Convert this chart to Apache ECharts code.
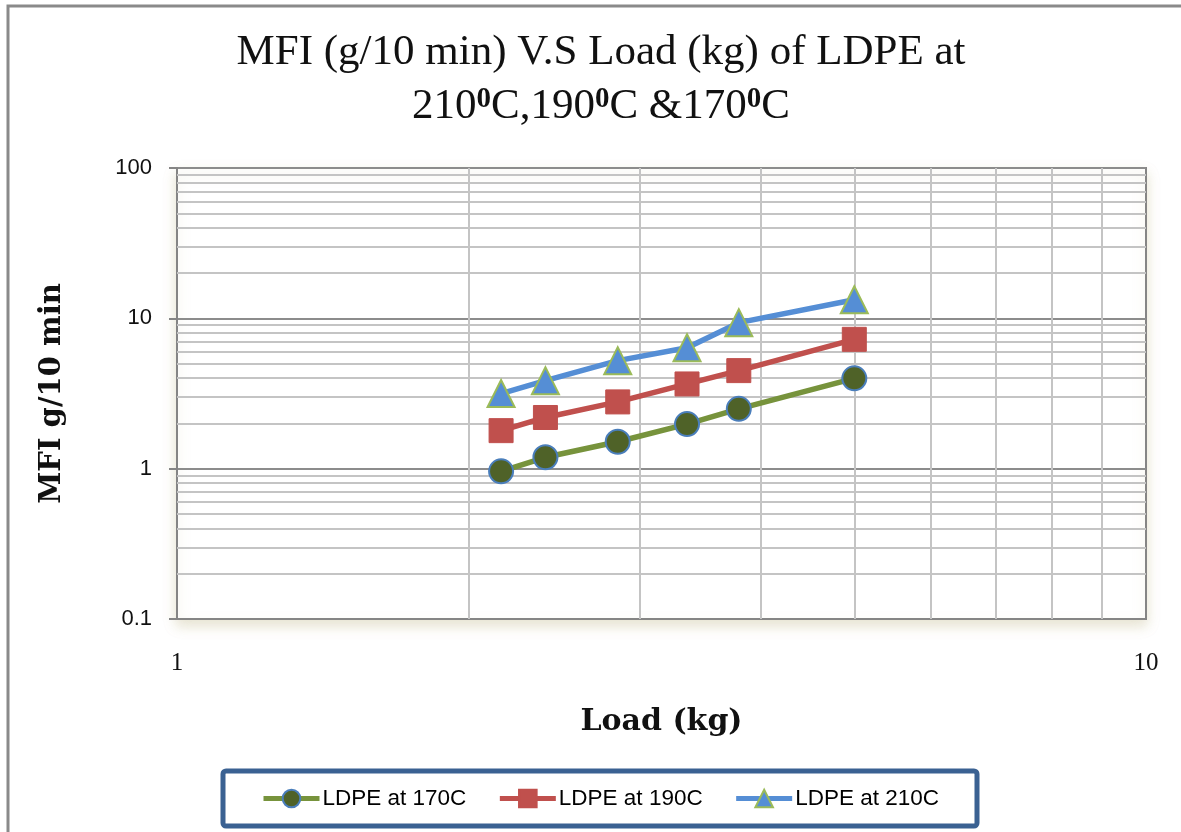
<!DOCTYPE html>
<html>
<head>
<meta charset="utf-8">
<script src="https://cdn.jsdelivr.net/npm/echarts@6/dist/echarts.min.js"></script>
<style>
  html, body { margin: 0; padding: 0; background: #fff; }
  #chart { width: 1181px; height: 832px; }
</style>
</head>
<body>
<div id="chart"></div>
<script>
// load (kg) on x, MFI (g/10 min) on y
const loads = [2.16, 2.4, 2.85, 3.36, 3.8, 5.0]
const mfi170 = [0.96, 1.19, 1.51, 1.98, 2.50, 3.99]
const mfi190 = [1.79, 2.19, 2.78, 3.66, 4.49, 7.25]
const mfi210 = [3.16, 3.85, 5.23, 6.38, 9.36, 13.3]
const seriesNames = ['LDPE at 170C', 'LDPE at 190C', 'LDPE at 210C']

// minor grid lines of the log axes
const xMinor = [2, 3, 4, 5, 6, 7, 8, 9]
const yMinor = [0.2, 0.3, 0.4, 0.5, 0.6, 0.7, 0.8, 0.9,
  2, 3, 4, 5, 6, 7, 8, 9,
  20, 30, 40, 50, 60, 70, 80, 90]

function pairs(xs, ys) {
  let out = []
  for (let i = 0; i < xs.length; i++) {
    out.push([xs[i], ys[i]])
  }
  return out
}

const chart = echarts.init(document.getElementById('chart'))

const gridLines = []
xMinor.forEach(v => gridLines.push({ xAxis: v }))
yMinor.forEach(v => gridLines.push({ yAxis: v }))

const option = {
  animation: false,
  backgroundColor: '#fff',
  graphic: [{
    type: 'rect',
    shape: { x: 8, y: 6, width: 1300, height: 1000 },
    style: { fill: 'none', stroke: '#8a8a8a', lineWidth: 3 },
    silent: true
  }],
  title: {
    left: 596,
    top: 21,
    textAlign: 'center',
    text: 'MFI (g/10 min) V.S Load (kg) of LDPE at\n210{s|0}C,190{s|0}C &170{s|0}C',
    textStyle: {
      fontFamily: 'Liberation Serif',
      fontSize: 43,
      fontWeight: 'normal',
      color: '#111',
      lineHeight: 54,
      rich: {
        s: {
          fontFamily: 'Liberation Serif',
          fontSize: 29,
          fontWeight: 'bold',
          color: '#111',
          lineHeight: 54,
          verticalAlign: 'top',
          padding: [5, 0, 0, 0]
        }
      }
    }
  },
  grid: {
    left: 177,
    right: 35,
    top: 168,
    bottom: 213,
    show: true,
    borderColor: '#858585',
    borderWidth: 2,
    backgroundColor: '#fff',
    shadowColor: 'rgba(190,180,130,0.35)',
    shadowBlur: 12,
    shadowOffsetY: 6
  },
  xAxis: {
    type: 'log',
    logBase: 10,
    min: 1,
    max: 10,
    name: 'Load (kg)',
    nameLocation: 'middle',
    nameGap: 88,
    nameTextStyle: {
      fontFamily: 'DejaVu Serif',
      fontWeight: 'bold',
      fontSize: 30,
      color: '#111'
    },
    axisLine: { lineStyle: { color: '#858585', width: 2 } },
    axisTick: { show: false },
    axisLabel: {
      margin: 32,
      fontFamily: 'Liberation Serif',
      fontSize: 25,
      color: '#111'
    },
    splitLine: { show: false }
  },
  yAxis: {
    type: 'log',
    logBase: 10,
    min: 0.1,
    max: 100,
    name: 'MFI g/10 min',
    nameLocation: 'middle',
    nameGap: 110,
    nameTextStyle: {
      fontFamily: 'DejaVu Serif',
      fontWeight: 'bold',
      fontSize: 29,
      color: '#111'
    },
    axisLine: { show: true, lineStyle: { color: '#858585', width: 2 } },
    axisTick: { show: true, length: 8, lineStyle: { color: '#858585', width: 2 } },
    axisLabel: {
      margin: 25,
      fontFamily: 'Liberation Sans',
      fontSize: 22,
      color: '#111'
    },
    splitLine: { show: true, lineStyle: { color: '#8c8c8c', width: 2 } }
  },
  legend: {
    left: 223,
    top: 771,
    padding: [16, 38, 16, 38],
    itemGap: 31,
    itemWidth: 56,
    itemHeight: 22,
    borderColor: '#3A6192',
    borderWidth: 5,
    borderRadius: 3,
    lineStyle: { width: 5 },
    textStyle: {
      fontFamily: 'Liberation Sans',
      fontSize: 22.5,
      color: '#000',
      padding: [0, 0, 0, -2]
    },
    data: seriesNames
  },
  series: [
    {
      name: 'grid',
      type: 'line',
      data: [],
      silent: true,
      z: 1,
      markLine: {
        silent: true,
        symbol: ['none', 'none'],
        label: { show: false },
        lineStyle: { color: '#c4c4c4', width: 2, type: 'solid' },
        data: gridLines
      }
    },
    {
      name: seriesNames[0],
      type: 'line',
      data: pairs(loads, mfi170),
      zlevel: 1,
      symbol: 'circle',
      symbolSize: 24,
      lineStyle: { color: '#77933C', width: 5.5 },
      itemStyle: { color: '#4F6228', borderColor: '#4A7EBB', borderWidth: 2 }
    },
    {
      name: seriesNames[1],
      type: 'line',
      data: pairs(loads, mfi190),
      zlevel: 1,
      symbol: 'rect',
      symbolSize: 24,
      lineStyle: { color: '#C0504D', width: 5.5 },
      itemStyle: { color: '#C0504D', borderColor: '#C0504D', borderWidth: 1 }
    },
    {
      name: seriesNames[2],
      type: 'line',
      data: pairs(loads, mfi210),
      zlevel: 1,
      symbol: 'triangle',
      symbolSize: 27,
      lineStyle: { color: '#558ED5', width: 5.5 },
      itemStyle: { color: '#558ED5', borderColor: '#9BBB59', borderWidth: 2 }
    }
  ]
}

chart.setOption(option)
</script>
</body>
</html>
